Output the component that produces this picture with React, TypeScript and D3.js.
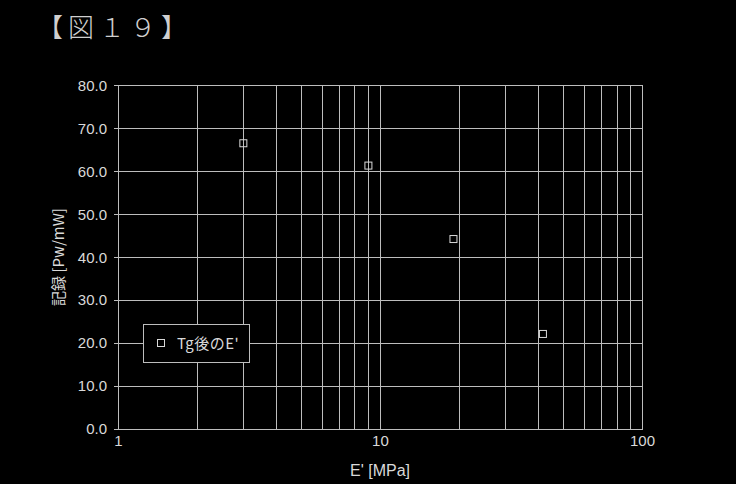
import { useMemo } from 'react'
import * as d3 from 'd3'

const W = 736
const H = 484

const seriesName = 'Tg後のE\''
const modulus = [3.0, 9.0, 19.0, 41.7]
const recording = [66.6, 61.4, 44.3, 22.2]
const yTicks = [0, 10, 20, 30, 40, 50, 60, 70, 80]
const xTickLabels = [1, 10, 100]

const FG = '#d9d9d9'
const GRID = '#bdbdbd'
const SANS = '"Liberation Sans", Arial, sans-serif'

export default function App() {
  const x = useMemo(() => d3.scaleLog().domain([1, 100]).range([118.3, 642.5]), [])
  const y = useMemo(() => d3.scaleLinear().domain([0, 80]).range([429.3, 85.7]), [])

  const xGrid = useMemo(() => {
    const out: number[] = []
    for (let dec = 1; dec < 100; dec *= 10) {
      for (let k = 1; k <= 10; k++) out.push(dec * k)
    }
    return Array.from(new Set(out))
  }, [])

  const points = modulus.map((m, i) => ({ x: x(m), y: y(recording[i]) }))

  return (
    <div style={{ position: 'fixed', left: 0, top: 0, width: W, height: H, background: '#000' }}>
      <svg width={W} height={H} style={{ display: 'block' }}>
        <rect width={W} height={H} fill="#000" />
        <text
          x={37}
          y={37}
          fill="#cfcfcf"
          fontSize={26}
          fontFamily='"Noto Sans CJK JP", sans-serif'
          fontWeight={300}
          letterSpacing={5}
        >
          【図１９】
        </text>

        {/* grid */}
        <g stroke={GRID} strokeWidth={1} shapeRendering="crispEdges">
          {xGrid.map((v) => (
            <line key={'v' + v} x1={x(v)} x2={x(v)} y1={y(80)} y2={y(0)} />
          ))}
          {yTicks.map((v) => (
            <line key={'h' + v} x1={x(1) - 4} x2={x(100)} y1={y(v)} y2={y(v)} />
          ))}
        </g>

        {/* y tick labels */}
        <g fill={FG} fontSize={15} fontFamily={SANS} textAnchor="end">
          {yTicks.map((v) => (
            <text key={v} x={107} y={y(v) + 5}>
              {v.toFixed(1)}
            </text>
          ))}
        </g>

        {/* x tick labels */}
        <g fill={FG} fontSize={15} fontFamily={SANS} textAnchor="middle">
          {xTickLabels.map((v) => (
            <text key={v} x={x(v)} y={446}>
              {v}
            </text>
          ))}
        </g>

        <text x={380} y={476} fill={FG} fontSize={16} fontFamily={SANS} textAnchor="middle">
          E' [MPa]
        </text>
        <text
          transform={`translate(64, ${257}) rotate(-90)`}
          fill={FG}
          fontSize={15}
          fontFamily='"Noto Sans CJK JP", sans-serif'
          textAnchor="middle"
        >
          記録 [Pw/mW]
        </text>

        {/* points */}
        <g fill="none" stroke={FG} strokeWidth={1}>
          {points.map((p, i) => (
            <rect key={i} x={p.x - 3.5} y={p.y - 3.5} width={7} height={7} />
          ))}
        </g>

        {/* legend */}
        <g>
          <rect x={143.5} y={324.5} width={106} height={38} fill="#000" stroke={GRID} strokeWidth={1} />
          <rect x={157.5} y={339.5} width={7} height={7} fill="none" stroke={FG} />
          <text x={177} y={349} fill={FG} fontSize={15} fontFamily='"Noto Sans CJK JP", sans-serif' letterSpacing={0.5}>
            {seriesName}
          </text>
        </g>
      </svg>
    </div>
  )
}
